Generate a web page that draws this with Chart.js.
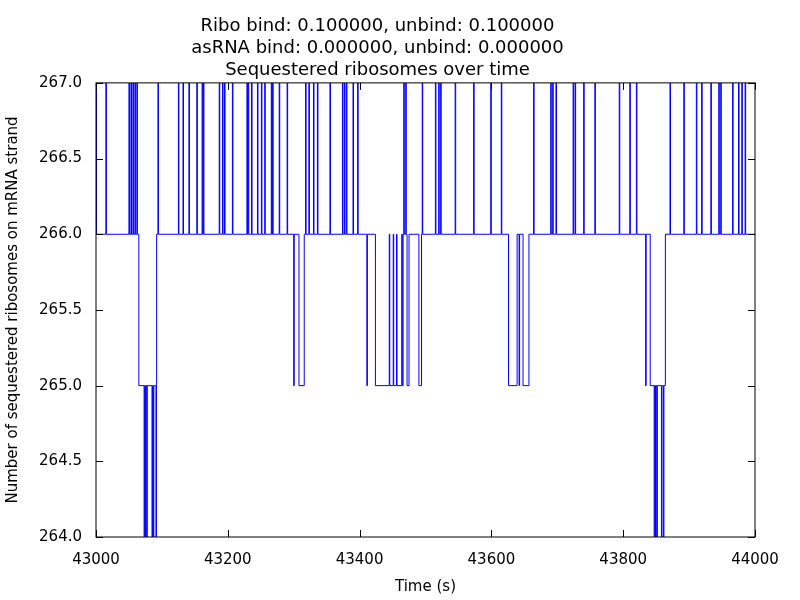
<!DOCTYPE html>
<html>
<head>
<meta charset="utf-8">
<script src="https://cdn.jsdelivr.net/npm/chart.js@4"></script>
<style>
  body { margin: 0; background: #fff; }
  #wrap { width: 800px; height: 600px; }
</style>
</head>
<body>
<div id="wrap"><canvas id="grafico" width="800" height="600"></canvas></div>
<script>
// Niveles base: [tiempo, nivel] que se mantienen hasta el siguiente cambio
const baseSegments = [
  [43000, 266], [43065, 265], [43092, 266], [43308, 265], [43316, 266],
  [43424, 265], [43466, 266], [43472, 265], [43475, 266], [43490, 265],
  [43494, 266], [43626, 265], [43639, 266], [43648, 265], [43657, 266],
  [43841, 265], [43864, 266]
];

// Picos cortos hasta 267
const spikes267 = [
  43000, 43015, 43050, 43053, 43056, 43059, 43062, 43094, 43125, 43132,
  43141, 43153, 43161, 43163, 43187, 43192, 43195, 43207, 43229, 43231,
  43236, 43245, 43251, 43256, 43266, 43268, 43278, 43290, 43318, 43323,
  43330, 43336, 43355, 43374, 43377, 43380, 43390, 43397, 43467, 43470,
  43495, 43515, 43520, 43523, 43545, 43573, 43599, 43615, 43664, 43690,
  43693, 43698, 43724, 43727, 43740, 43757, 43794, 43810, 43820, 43871,
  43892, 43911, 43919, 43933, 43945, 43948, 43966, 43975, 43980, 43985
];

// Picos cortos hasta 266 (desde base 265)
const spikes266 = [43445, 43451, 43456, 43464];

// Caídas cortas a 265 (desde base 266)
const dips265 = [43300, 43411, 43642, 43834];

// Caídas cortas a 264 (desde base 265)
const dips264 = [43073, 43075, 43077, 43085, 43087, 43091, 43847, 43849, 43851, 43858, 43861];

const xTicks = [43000, 43200, 43400, 43600, 43800, 44000];

function baseAt(t) {
  let lvl = baseSegments[0][1];
  for (const [ts, l] of baseSegments) {
    if (ts <= t) lvl = l;
  }
  return lvl;
}

// Construir la serie escalonada
const ancho = 0.8;
let puntos = baseSegments.map(([t, l]) => ({ x: t, y: l }));
const agregarPulso = (t, lvl) => {
  puntos.push({ x: t, y: lvl });
  puntos.push({ x: t + ancho, y: baseAt(t + ancho) });
};
spikes267.forEach(t => agregarPulso(t, 267));
spikes266.forEach(t => agregarPulso(t, 266));
dips265.forEach(t => agregarPulso(t, 265));
dips264.forEach(t => agregarPulso(t, 264));
puntos.sort((a, b) => a.x - b.x);
puntos.push({ x: 44000, y: 266 });

// Marco y ticks hacia adentro, estilo matplotlib
const marco = {
  id: 'marco',
  afterDraw(chart) {
    const { ctx, chartArea: a, scales } = chart;
    ctx.save();
    ctx.strokeStyle = '#000';
    ctx.lineWidth = 1;
    ctx.strokeRect(a.left, a.top, a.right - a.left, a.bottom - a.top);
    ctx.beginPath();
    xTicks.forEach(v => {
      const px = Math.round(scales.x.getPixelForValue(v)) + 0.5;
      ctx.moveTo(px, a.bottom); ctx.lineTo(px, a.bottom - 7);
      ctx.moveTo(px, a.top); ctx.lineTo(px, a.top + 7);
    });
    scales.y.ticks.forEach(t => {
      const py = Math.round(scales.y.getPixelForValue(t.value)) + 0.5;
      ctx.moveTo(a.left, py); ctx.lineTo(a.left + 7, py);
      ctx.moveTo(a.right, py); ctx.lineTo(a.right - 7, py);
    });
    ctx.stroke();
    ctx.restore();
  }
};

Chart.defaults.font.family = 'DejaVu Sans';
Chart.defaults.color = '#000';

new Chart(document.getElementById('grafico'), {
  type: 'line',
  data: {
    datasets: [{
      data: puntos,
      borderColor: '#0000ff',
      borderWidth: 1,
      pointRadius: 0,
      stepped: true,
      fill: false
    }]
  },
  options: {
    responsive: false,
    animation: false,
    layout: { padding: { left: 0, right: 45, top: 0, bottom: 0 } },
    plugins: {
      legend: { display: false },
      tooltip: { enabled: false },
      title: {
        display: true,
        text: ['Ribo bind: 0.100000, unbind: 0.100000', 'asRNA bind: 0.000000, unbind: 0.000000', 'Sequestered ribosomes over time'],
        font: { size: 18, weight: 'normal', lineHeight: 1.22 },
        padding: { top: 15, bottom: 2 }
      }
    },
    scales: {
      x: {
        type: 'linear',
        min: 43000, max: 44000,
        afterBuildTicks: s => { s.ticks = xTicks.map(v => ({ value: v })); },
        afterFit: s => { s.height = 63; },
        grid: { display: false },
        border: { display: false },
        ticks: { font: { size: 15 }, padding: 6, maxRotation: 0, callback: v => String(v) },
        title: { display: true, text: 'Time (s)', font: { size: 15 }, padding: { top: 2 } }
      },
      y: {
        min: 264, max: 267,
        afterFit: s => { s.width = 96; },
        grid: { display: false },
        border: { display: false },
        ticks: { stepSize: 0.5, font: { size: 15 }, padding: 6, callback: v => v.toFixed(1) },
        title: { display: true, text: 'Number of sequestered ribosomes on mRNA strand', font: { size: 15 }, padding: { bottom: 0 } }
      }
    }
  },
  plugins: [marco]
});
</script>
</body>
</html>
